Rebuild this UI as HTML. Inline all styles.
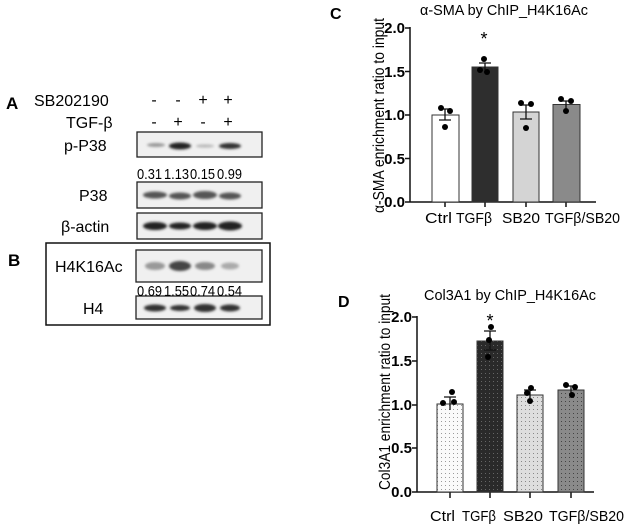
<!DOCTYPE html>
<html><head><meta charset="utf-8"><style>body{margin:0;background:#fff}svg{display:block}text{font-family:"Liberation Sans",Arial,sans-serif}</style></head><body>
<svg width="629" height="527" viewBox="0 0 629 527" xmlns="http://www.w3.org/2000/svg">
<defs>
<filter id="bl" x="-30%" y="-80%" width="160%" height="260%"><feGaussianBlur stdDeviation="1.3"/></filter>
<pattern id="p1" width="4" height="4" patternUnits="userSpaceOnUse"><rect width="4" height="4" fill="#fafafa"/><rect x="1" y="1" width="1" height="1" fill="#9a9a9a"/></pattern>
<pattern id="p2" width="4" height="4" patternUnits="userSpaceOnUse"><rect width="4" height="4" fill="#2a2a2a"/><rect x="1" y="1" width="1" height="1" fill="#666"/></pattern>
<pattern id="p3" width="4" height="4" patternUnits="userSpaceOnUse"><rect width="4" height="4" fill="#dedede"/><rect x="1" y="1" width="1" height="1" fill="#888"/></pattern>
<pattern id="p4" width="4" height="4" patternUnits="userSpaceOnUse"><rect width="4" height="4" fill="#8a8a8a"/><rect x="1" y="1" width="1" height="1" fill="#444"/></pattern>
</defs>
<!-- Blots -->
<text x="6" y="109" font-size="17" font-weight="bold">A</text>
<text x="34" y="106" font-size="16">SB202190</text>
<text x="66" y="128" font-size="16">TGF-β</text>
<g font-size="16" text-anchor="middle">
<text x="154" y="105">-</text><text x="178" y="105">-</text><text x="203" y="105">+</text><text x="228" y="105">+</text>
<text x="154" y="127">-</text><text x="178" y="127">+</text><text x="203" y="127">-</text><text x="228" y="127">+</text>
</g>
<text x="64" y="151" font-size="16">p-P38</text>
<text x="79" y="201" font-size="16">P38</text>
<text x="61" y="232" font-size="16">β-actin</text>
<g fill="#f0f0f0" stroke="#222" stroke-width="1.3">
<rect x="137" y="132" width="125" height="25"/>
<rect x="137" y="182" width="125" height="26"/>
<rect x="137" y="213" width="125" height="26"/>
<rect x="136" y="250" width="126" height="32"/>
<rect x="136" y="296" width="126" height="23"/>
</g>
<rect x="46" y="243" width="224" height="82" fill="none" stroke="#111" stroke-width="1.5"/>
<g filter="url(#bl)">
<ellipse cx="156" cy="145" rx="9" ry="2" fill="#999"/>
<ellipse cx="180" cy="146" rx="11" ry="3.5" fill="#222"/>
<ellipse cx="205" cy="146" rx="9" ry="1.8" fill="#bbb"/>
<ellipse cx="230" cy="146" rx="11" ry="3" fill="#333"/>
<ellipse cx="155" cy="195" rx="12" ry="3.5" fill="#555"/><ellipse cx="180" cy="196" rx="11" ry="3.5" fill="#555"/><ellipse cx="205" cy="195" rx="12" ry="4" fill="#555"/><ellipse cx="230" cy="196" rx="11" ry="3.5" fill="#555"/>
<ellipse cx="155" cy="226" rx="12" ry="4" fill="#222"/><ellipse cx="180" cy="226" rx="11" ry="3.5" fill="#222"/><ellipse cx="205" cy="226" rx="12" ry="4" fill="#222"/><ellipse cx="230" cy="226" rx="12" ry="4.5" fill="#222"/>
<ellipse cx="155" cy="266" rx="10" ry="4" fill="#999"/><ellipse cx="180" cy="266" rx="11" ry="5" fill="#444"/><ellipse cx="205" cy="266" rx="10" ry="4" fill="#888"/><ellipse cx="230" cy="266" rx="9" ry="3.5" fill="#aaa"/>
<ellipse cx="155" cy="308" rx="11" ry="3.5" fill="#333"/><ellipse cx="180" cy="308" rx="10" ry="3" fill="#333"/><ellipse cx="205" cy="308" rx="11" ry="4" fill="#333"/><ellipse cx="230" cy="308" rx="10" ry="3.5" fill="#333"/>
</g>
<g font-size="15">
<text x="137" y="179" textLength="25" lengthAdjust="spacingAndGlyphs">0.31</text><text x="164" y="179" textLength="25" lengthAdjust="spacingAndGlyphs">1.13</text><text x="190" y="179" textLength="25" lengthAdjust="spacingAndGlyphs">0.15</text><text x="217" y="179" textLength="25" lengthAdjust="spacingAndGlyphs">0.99</text>
<text x="137" y="296" textLength="25" lengthAdjust="spacingAndGlyphs">0.69</text><text x="164" y="296" textLength="25" lengthAdjust="spacingAndGlyphs">1.55</text><text x="190" y="296" textLength="25" lengthAdjust="spacingAndGlyphs">0.74</text><text x="217" y="296" textLength="25" lengthAdjust="spacingAndGlyphs">0.54</text>
</g>
<text x="8" y="266" font-size="17" font-weight="bold">B</text>
<text x="55" y="272" font-size="16">H4K16Ac</text>
<text x="83" y="314" font-size="16">H4</text>

<!-- Chart C -->
<text x="330" y="19" font-size="16" font-weight="bold">C</text>
<text x="420" y="15" font-size="15" textLength="168" lengthAdjust="spacingAndGlyphs">α-SMA by ChIP_H4K16Ac</text>
<text transform="translate(384,213) rotate(-90)" font-size="16" textLength="195" lengthAdjust="spacingAndGlyphs">α-SMA enrichment ratio to input</text>
<g font-size="15" font-weight="bold" text-anchor="end">
<text x="405" y="33">2.0</text><text x="405" y="77">1.5</text><text x="405" y="120">1.0</text><text x="405" y="164">0.5</text><text x="405" y="207">0.0</text>
</g>
<g stroke="#111" stroke-width="1.5">
<line x1="410" y1="27" x2="410" y2="202"/><line x1="405" y1="28" x2="410" y2="28"/><line x1="405" y1="71.5" x2="410" y2="71.5"/><line x1="405" y1="115" x2="410" y2="115"/><line x1="405" y1="158.5" x2="410" y2="158.5"/>
<line x1="405" y1="202" x2="596" y2="202"/>
<line x1="445" y1="202" x2="445" y2="207"/><line x1="485" y1="202" x2="485" y2="207"/><line x1="526" y1="202" x2="526" y2="207"/><line x1="566" y1="202" x2="566" y2="207"/>
</g>
<g stroke="#333" stroke-width="1">
<rect x="432" y="115" width="27" height="87" fill="#fff"/>
<rect x="472" y="67" width="26" height="135" fill="#2e2e2e"/>
<rect x="513" y="112" width="26" height="90" fill="#d4d4d4"/>
<rect x="553" y="104.5" width="27" height="97.5" fill="#8a8a8a"/>
</g>
<g stroke="#111" stroke-width="1.3">
<path d="M445 120V109M439 109H451M439 120H451"/>
<path d="M485 70V63M479 63H491"/>
<path d="M526 119V105M520 105H532M520 119H532"/>
<path d="M566 108V101M560 101H572"/>
</g>
<g fill="#000">
<circle cx="441" cy="108" r="3"/><circle cx="450" cy="111" r="3"/><circle cx="445" cy="127" r="3"/>
<circle cx="484" cy="59" r="3"/><circle cx="480" cy="70" r="3"/><circle cx="487" cy="72" r="3"/>
<circle cx="521" cy="103" r="3"/><circle cx="531" cy="104" r="3"/><circle cx="526" cy="128" r="3"/>
<circle cx="561" cy="99" r="3"/><circle cx="571" cy="101" r="3"/><circle cx="566" cy="111" r="3"/>
</g>
<text x="484" y="45" font-size="18" text-anchor="middle">*</text>
<g font-size="15">
<text x="425" y="223" textLength="27" lengthAdjust="spacingAndGlyphs">Ctrl</text>
<text x="456" y="223" textLength="36" lengthAdjust="spacingAndGlyphs">TGFβ</text>
<text x="502" y="223" textLength="38" lengthAdjust="spacingAndGlyphs">SB20</text>
<text x="545" y="223" textLength="75" lengthAdjust="spacingAndGlyphs">TGFβ/SB20</text>
</g>

<!-- Chart D -->
<text x="338" y="307" font-size="16" font-weight="bold">D</text>
<text x="424" y="300" font-size="15" textLength="172" lengthAdjust="spacingAndGlyphs">Col3A1 by ChIP_H4K16Ac</text>
<text transform="translate(390,490) rotate(-90)" font-size="16" textLength="196" lengthAdjust="spacingAndGlyphs">Col3A1 enrichment ratio to input</text>
<g font-size="15" font-weight="bold" text-anchor="end">
<text x="412" y="322">2.0</text><text x="412" y="366">1.5</text><text x="412" y="410">1.0</text><text x="412" y="453">0.5</text><text x="412" y="497">0.0</text>
</g>
<g stroke="#111" stroke-width="1.5">
<line x1="417" y1="316" x2="417" y2="492"/><line x1="412" y1="317" x2="417" y2="317"/><line x1="412" y1="361" x2="417" y2="361"/><line x1="412" y1="405" x2="417" y2="405"/><line x1="412" y1="448" x2="417" y2="448"/>
<line x1="412" y1="492" x2="594" y2="492"/>
<line x1="450" y1="492" x2="450" y2="498"/><line x1="490" y1="492" x2="490" y2="498"/><line x1="530" y1="492" x2="530" y2="498"/><line x1="571" y1="492" x2="571" y2="498"/>
</g>
<g stroke="#333" stroke-width="1">
<rect x="437" y="404" width="26" height="88" fill="url(#p1)"/>
<rect x="477" y="341" width="26" height="151" fill="url(#p2)"/>
<rect x="517" y="395" width="26" height="97" fill="url(#p3)"/>
<rect x="558" y="390" width="26" height="102" fill="url(#p4)"/>
</g>
<g stroke="#111" stroke-width="1.3">
<path d="M450 410V397M444 397H456"/>
<path d="M490 350V331M484 331H496M484 350H496"/>
<path d="M530 398V390M524 390H536"/>
<path d="M571 394V386M565 386H577"/>
</g>
<g fill="#000">
<circle cx="452" cy="392" r="3"/><circle cx="443" cy="403" r="3"/><circle cx="454" cy="402" r="3"/>
<circle cx="491" cy="327" r="3"/><circle cx="489" cy="340" r="3"/><circle cx="488" cy="357" r="3"/>
<circle cx="531" cy="388" r="3"/><circle cx="527" cy="393" r="3"/><circle cx="530" cy="401" r="3"/>
<circle cx="566" cy="385" r="3"/><circle cx="575" cy="387" r="3"/><circle cx="572" cy="395" r="3"/>
</g>
<text x="490" y="327" font-size="18" text-anchor="middle">*</text>
<g font-size="15">
<text x="430" y="521" textLength="25" lengthAdjust="spacingAndGlyphs">Ctrl</text>
<text x="462" y="521" textLength="34" lengthAdjust="spacingAndGlyphs">TGFβ</text>
<text x="503" y="521" textLength="40" lengthAdjust="spacingAndGlyphs">SB20</text>
<text x="549" y="521" textLength="75" lengthAdjust="spacingAndGlyphs">TGFβ/SB20</text>
</g>
</svg>
</body></html>
